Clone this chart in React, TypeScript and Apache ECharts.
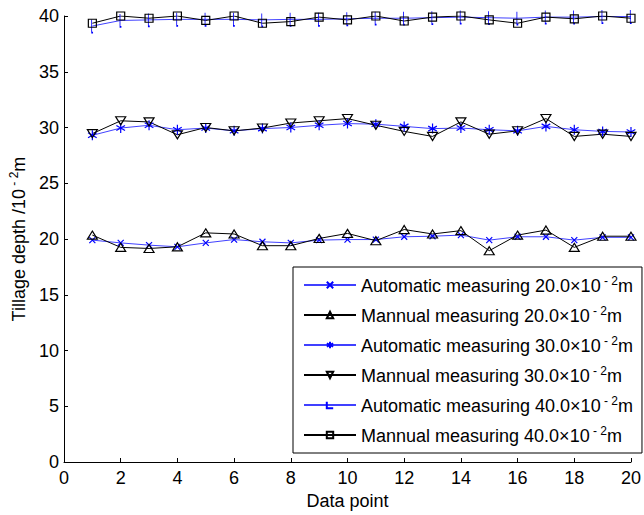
import React, { useEffect, useRef } from "react";
import * as echarts from "echarts";

const dataPoints = [1, 2, 3, 4, 5, 6, 7, 8, 9, 10, 11, 12, 13, 14, 15, 16, 17, 18, 19, 20];

const auto20 = [19.9, 19.65, 19.45, 19.3, 19.65, 19.95, 19.75, 19.65, 19.9, 19.95, 19.95, 20.2, 20.25, 20.35, 19.9, 20.2, 20.2, 19.9, 20.15, 20.15];
const manual20 = [20.35, 19.25, 19.15, 19.3, 20.55, 20.45, 19.4, 19.4, 20.05, 20.5, 19.85, 20.85, 20.45, 20.75, 18.95, 20.35, 20.8, 19.25, 20.25, 20.25];
const auto30 = [29.3, 29.95, 30.2, 29.8, 29.95, 29.7, 29.9, 30.0, 30.2, 30.35, 30.3, 30.1, 29.9, 29.95, 29.8, 29.7, 30.1, 29.8, 29.65, 29.6];
const manual30 = [29.45, 30.6, 30.5, 29.35, 30.0, 29.7, 29.95, 30.4, 30.6, 30.8, 30.2, 29.65, 29.2, 30.5, 29.4, 29.7, 30.8, 29.2, 29.4, 29.2];
const auto40 = [39.1, 39.6, 39.65, 39.7, 39.7, 39.7, 39.65, 39.7, 39.7, 39.75, 39.8, 39.8, 39.85, 39.9, 39.85, 39.8, 39.9, 39.9, 39.95, 39.95];
const manual40 = [39.35, 40.0, 39.8, 40.0, 39.6, 40.0, 39.35, 39.5, 39.9, 39.65, 40.0, 39.55, 39.9, 40.0, 39.65, 39.35, 39.9, 39.75, 40.0, 39.8];

const seriesNames = [
  "Automatic measuring 20.0×10",
  "Mannual measuring 20.0×10",
  "Automatic measuring 30.0×10",
  "Mannual measuring 30.0×10",
  "Automatic measuring 40.0×10",
  "Mannual measuring 40.0×10",
];

const xTicks = { min: 0, max: 20, interval: 2 };
const yTicks = { min: 0, max: 40, interval: 5 };

const FONT = "Liberation Sans";
const BLUE = "#0000ff";

const SYM_X = "path://M0,0L10,10M10,0L0,10";
const SYM_STAR = "path://M5,0L5,10M0.67,2.5L9.33,7.5M0.67,7.5L9.33,2.5";
const SYM_T = "path://M3,0L3,13L6,13";
const SYM_DOWN = "path://M0,0L10,0L5,9Z";
const SYM_SQ = "path://M0,0L10,0L10,10L0,10Z";
const SYM_UP = "path://M5,0L10,9L0,9Z";

const legendRich = {
  n: { fontSize: 18, fontFamily: FONT, color: "#000", lineHeight: 20, verticalAlign: "bottom" },
  s: { fontSize: 12, fontFamily: FONT, color: "#000", lineHeight: 11, verticalAlign: "top" },
};
const nameRich = {
  n: { fontSize: 18, fontFamily: FONT, color: "#000", lineHeight: 20, verticalAlign: "bottom" },
  s: { fontSize: 12, fontFamily: FONT, color: "#000", lineHeight: 11, verticalAlign: "top" },
};

export default function App() {
  const ref = useRef<HTMLDivElement>(null);

  useEffect(() => {
    if (!ref.current) return;
    const chart = echarts.init(ref.current, null, { renderer: "svg" });

    const mk = (vals: number[]) => dataPoints.map((x, i) => [x, vals[i]]);

    const autoSeries = (name: string, vals: number[], symbol: string, size: any) => ({
      name,
      type: "line",
      data: mk(vals),
      symbol,
      symbolSize: size,
      symbolKeepAspect: true,
      showAllSymbol: true,
      lineStyle: { color: BLUE, width: 1, opacity: 0.75 },
      itemStyle: { color: "rgba(0,0,0,0)", borderColor: BLUE, borderWidth: 1.2 },
      emphasis: { disabled: true },
    });
    const manualSeries = (name: string, vals: number[], symbol: string, size: any) => ({
      name,
      type: "line",
      data: mk(vals),
      symbol,
      symbolSize: size,
      symbolKeepAspect: true,
      showAllSymbol: true,
      lineStyle: { color: "#000", width: 1 },
      itemStyle: { color: "rgba(0,0,0,0)", borderColor: "#000", borderWidth: 1.2 },
      emphasis: { disabled: true },
    });

    const axisCommon = {
      type: "value",
      axisLine: { show: true, lineStyle: { color: "#000", width: 1 } },
      axisTick: { show: true, inside: true, length: 4, lineStyle: { color: "#000" } },
      axisLabel: { color: "#000", fontSize: 18, fontFamily: FONT },
      splitLine: { show: false },
      nameLocation: "middle",
      nameTextStyle: { rich: nameRich },
    };

    chart.setOption({
      animation: false,
      backgroundColor: "#fff",
      grid: { left: 64, right: 6, top: 16, bottom: 51, containLabel: false },
      xAxis: {
        ...axisCommon,
        ...xTicks,
        axisLabel: { ...axisCommon.axisLabel, margin: 7 },
        name: "{n|Data point}",
        nameGap: 28,
      },
      yAxis: {
        ...axisCommon,
        ...yTicks,
        axisLabel: { ...axisCommon.axisLabel, margin: 5 },
        name: "{n|Tillage depth /10}{s| - 2}{n|m}",
        nameGap: 33,
      },
      legend: {
        orient: "vertical",
        left: 293,
        top: 267,
        width: 344,
        padding: [8, 9, 8, 10],
        itemGap: 10,
        itemWidth: 52,
        itemHeight: 8,
        itemTextGap: 6,
        backgroundColor: "#fff",
        borderColor: "#000",
        borderWidth: 1,
        borderRadius: 0,
        selectedMode: false,
        data: seriesNames,
        formatter: (name: string) => `{n|${name}}{s| - 2}{n|m}`,
        textStyle: { rich: legendRich },
      },
      series: [
        autoSeries(seriesNames[0], auto20, SYM_X, 6),
        manualSeries(seriesNames[1], manual20, SYM_UP, [10, 9]),
        autoSeries(seriesNames[2], auto30, SYM_STAR, 10),
        manualSeries(seriesNames[3], manual30, SYM_DOWN, [10, 9]),
        autoSeries(seriesNames[4], auto40, SYM_T, [6, 13]),
        manualSeries(seriesNames[5], manual40, SYM_SQ, 8),
      ],
    });

    return () => chart.dispose();
  }, []);

  return (
    <div
      ref={ref}
      style={{ position: "absolute", left: 0, top: 0, width: 644, height: 515 }}
    />
  );
}
